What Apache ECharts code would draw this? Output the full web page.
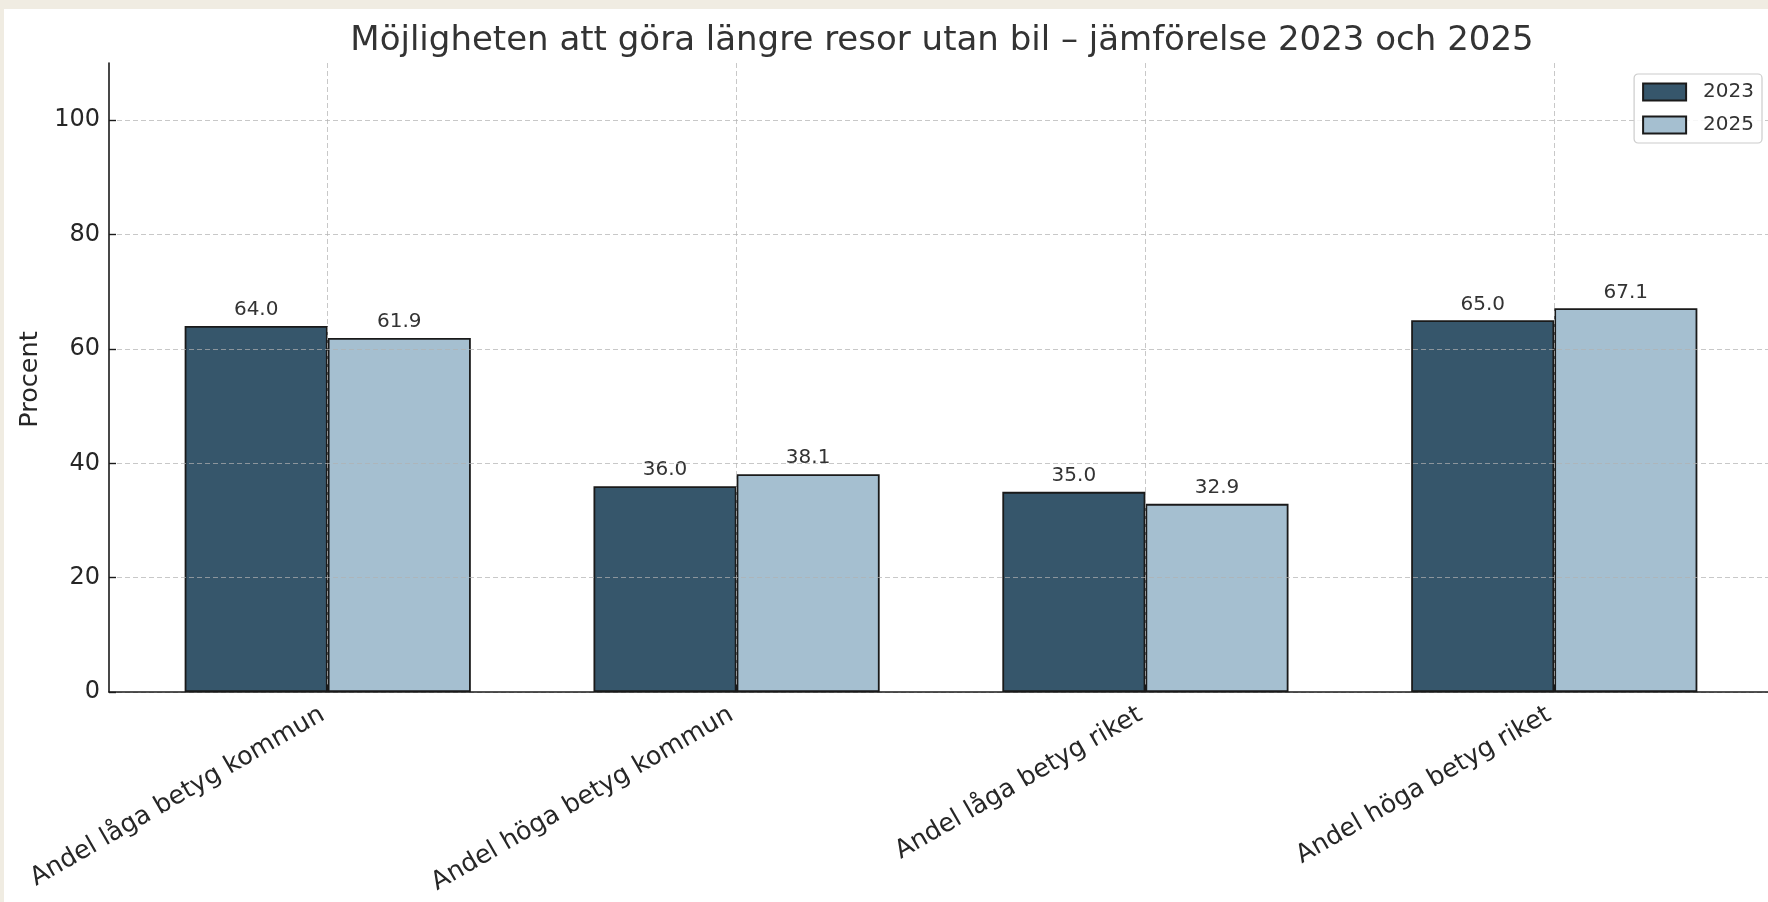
<!DOCTYPE html>
<html><head><meta charset="utf-8">
<script src="https://cdn.jsdelivr.net/npm/echarts@6/dist/echarts.min.js"></script>
<style>
html,body{margin:0;padding:0;background:#f0ece2;width:1768px;height:902px;overflow:hidden;position:relative}
#c{position:absolute;left:4px;top:9px;width:1796px;height:893px;background:#fff}
</style></head><body><div id="c"></div>
<script>
const categories = ['Andel låga betyg kommun', 'Andel höga betyg kommun', 'Andel låga betyg riket', 'Andel höga betyg riket'];
const values2023 = [64.0, 36.0, 35.0, 65.0];
const values2025 = [61.9, 38.1, 32.9, 67.1];
const seriesNames = ['2023', '2025'];
const yTicks = [0, 20, 40, 60, 80, 100];
const catPos = categories.map((_, i) => i);

const FONT = 'DejaVu Sans';
const gridLine = { show: true, lineStyle: { color: 'rgba(176,176,176,0.7)', width: 1, type: [5, 3] } };
const axisLine = { show: true, onZero: false, lineStyle: { color: '#1a1a1a', width: 1.6 } };

const chart = echarts.init(document.getElementById('c'), null, { renderer: 'canvas' });
chart.setOption({
  animation: false,
  backgroundColor: '#ffffff',
  textStyle: { fontFamily: FONT },
  title: {
    text: 'Möjligheten att göra längre resor utan bil – jämförelse 2023 och 2025',
    left: 933, top: 10, textAlign: 'center',
    textStyle: { fontFamily: FONT, fontSize: 34, fontWeight: 'normal', color: '#333333' }
  },
  legend: {
    orient: 'vertical', right: 38, top: 65,
    itemWidth: 43, itemHeight: 17, itemGap: 13,
    icon: 'rect',
    padding: [8, 8, 8, 8],
    borderColor: '#cccccc', borderWidth: 1.2, borderRadius: 4,
    backgroundColor: 'rgba(255,255,255,0.85)',
    textStyle: { fontFamily: FONT, fontSize: 20, color: '#333333', padding: [0, 0, 0, 12] },
    data: seriesNames
  },
  grid: { left: 105, top: 54, width: 1664, height: 629, containLabel: false },
  xAxis: {
    type: 'value', min: -0.535, max: 3.535, z: 3,
    axisLine: axisLine,
    axisTick: { show: true, inside: true, length: 7, customValues: catPos, lineStyle: { color: '#1a1a1a', width: 1.4 } },
    axisLabel: {
      customValues: catPos, rotate: 30, margin: 18, padding: [0, 6, 0, 0],
      formatter: v => categories[Math.round(v)] || '',
      fontFamily: FONT, fontSize: 25.4, color: '#262626'
    },
    splitLine: gridLine
  },
  yAxis: {
    type: 'value', min: 0, max: 110, z: 3,
    name: 'Procent', nameLocation: 'middle', nameGap: 62, nameRotate: 90,
    nameTextStyle: { fontFamily: FONT, fontSize: 25.5, color: '#262626', padding: [0, 4, 0, 0] },
    axisLine: axisLine,
    axisTick: { show: true, inside: true, length: 7, customValues: yTicks, lineStyle: { color: '#1a1a1a', width: 1.4 } },
    axisLabel: { customValues: yTicks, margin: 9, fontFamily: FONT, fontSize: 24, color: '#262626' },
    splitLine: gridLine
  },
  series: [
    {
      name: seriesNames[0], type: 'bar', barWidth: '35%', barGap: '0%',
      data: values2023.map((v, i) => [catPos[i], v]),
      itemStyle: { color: '#36566b', borderColor: '#1a1a1a', borderWidth: 1.8 },
      label: { show: true, position: 'top', distance: 6, formatter: p => p.value[1].toFixed(1), fontFamily: FONT, fontSize: 20, color: '#333333' }
    },
    {
      name: seriesNames[1], type: 'bar', barWidth: '35%', barGap: '0%',
      data: values2025.map((v, i) => [catPos[i], v]),
      itemStyle: { color: '#a5bfd0', borderColor: '#1a1a1a', borderWidth: 1.8 },
      label: { show: true, position: 'top', distance: 6, formatter: p => p.value[1].toFixed(1), fontFamily: FONT, fontSize: 20, color: '#333333' }
    }
  ]
});
</script></body></html>
